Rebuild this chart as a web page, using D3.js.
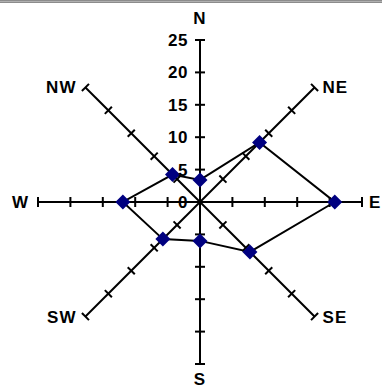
<!DOCTYPE html>
<html>
<head>
<meta charset="utf-8">
<script src="https://cdn.jsdelivr.net/npm/d3@7"></script>
<style>
  body { margin: 0; background: #fff; }
  svg { display: block; font-family: "Liberation Sans", Arial, sans-serif; font-weight: bold; }
</style>
</head>
<body>
<script>
// Data
const directions = ["N", "NE", "E", "SE", "S", "SW", "W", "NW"];
const values = [3.4, 13.0, 20.8, 10.9, 6.0, 8.1, 11.9, 6.0];
const tickValues = [0, 5, 10, 15, 20, 25];

const w = 382, h = 392;
const cx = 200, cy = 202;

const svg = d3.select("body").append("svg")
  .attr("width", w)
  .attr("height", h);

// top border
svg.append("rect").attr("x", 0).attr("y", 0).attr("width", w).attr("height", 3).attr("fill", "#8c8c8c");
svg.append("rect").attr("x", 0).attr("y", 1).attr("width", w).attr("height", 1).attr("fill", "#b0b0b0");

// Scales
const rScale = d3.scaleLinear().domain([0, 25]).range([0, 162]);
const angle = d3.scalePoint().domain(directions.concat(["_"])).range([0, 2 * Math.PI]);

const pos = (dir, v) => {
  const a = angle(dir);
  return [cx + rScale(v) * Math.sin(a), cy - rScale(v) * Math.cos(a)];
};

// Axes
const axes = svg.append("g");
directions.forEach(dir => {
  const a = angle(dir);
  const [x2, y2] = pos(dir, 25);
  axes.append("line")
    .attr("x1", cx).attr("y1", cy).attr("x2", x2).attr("y2", y2)
    .attr("stroke", "#000").attr("stroke-width", 2);
  tickValues.filter(t => t > 0).forEach(t => {
    const [tx, ty] = pos(dir, t);
    const px = Math.cos(a) * 5, py = Math.sin(a) * 5;
    axes.append("line")
      .attr("x1", tx - px).attr("y1", ty - py)
      .attr("x2", tx + px).attr("y2", ty + py)
      .attr("stroke", "#000").attr("stroke-width", 2);
  });
});

// Series line
const pts = directions.map((d, i) => pos(d, values[i]));
svg.append("path")
  .attr("d", d3.line().curve(d3.curveLinearClosed)(pts))
  .attr("fill", "none")
  .attr("stroke", "#000")
  .attr("stroke-width", 2);

// Markers
svg.selectAll(".marker")
  .data(pts)
  .enter()
  .append("path")
  .attr("class", "marker")
  .attr("transform", d => "translate(" + d[0] + "," + d[1] + ")")
  .attr("d", "M0,-7.5L7.5,0L0,7.5L-7.5,0Z")
  .attr("fill", "#000080");

// Tick labels on N axis
svg.selectAll(".tick-label")
  .data(tickValues)
  .enter()
  .append("text")
  .attr("class", "tick-label")
  .attr("x", cx - 12)
  .attr("y", d => cy - rScale(d) + 6)
  .attr("text-anchor", "end")
  .attr("font-size", 17)
  .attr("letter-spacing", 0.5)
  .text(d => d);

// Direction labels
const labelPos = {
  N: [0, -16, "middle"], NE: [8, 6, "start"], E: [7, 6, "start"], SE: [8, 6, "start"],
  S: [0, 21, "middle"], SW: [-9, 6, "end"], W: [-9, 6, "end"], NW: [-9, 6, "end"]
};
directions.forEach(dir => {
  const [x, y] = pos(dir, 25);
  const o = labelPos[dir];
  svg.append("text")
    .attr("x", x + o[0])
    .attr("y", y + o[1])
    .attr("text-anchor", o[2])
    .attr("font-size", 17)
    .attr("letter-spacing", 1)
    .text(dir);
});
</script>
</body>
</html>
